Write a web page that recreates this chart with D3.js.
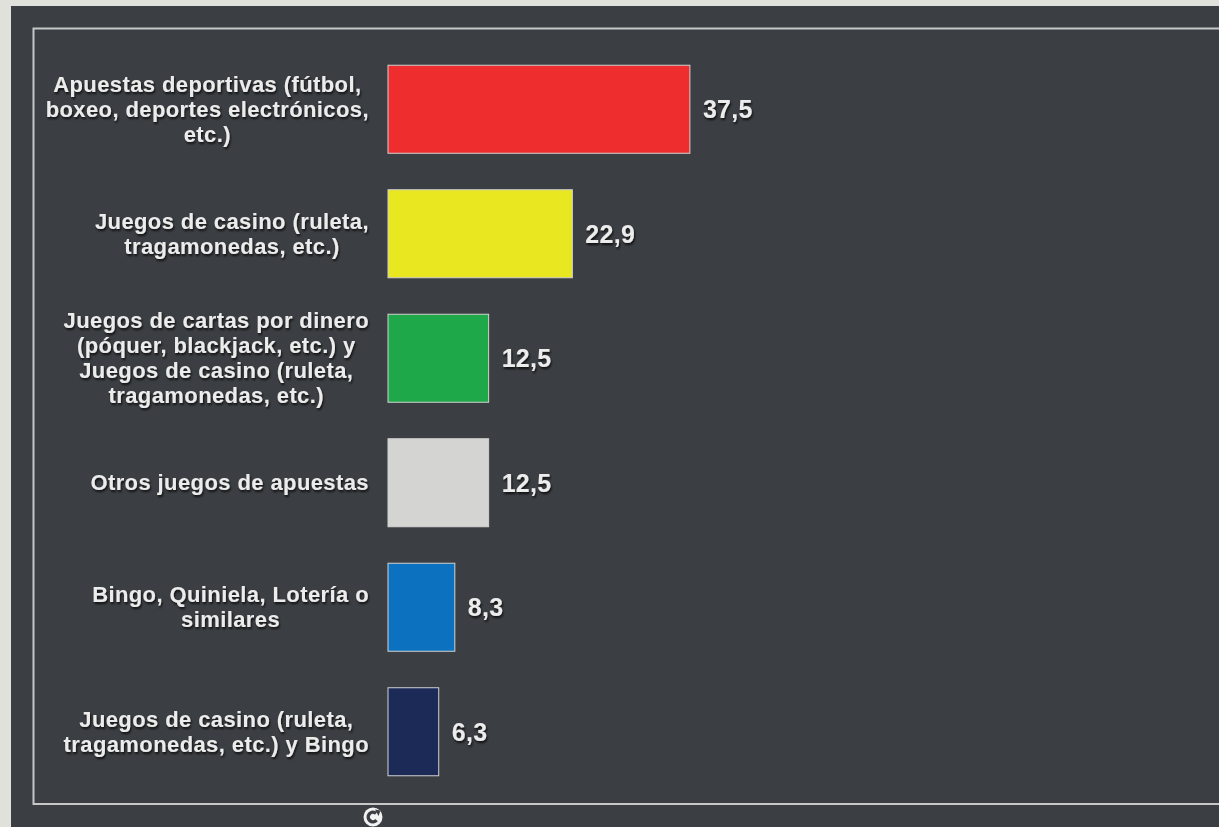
<!DOCTYPE html>
<html>
  <head>
    <meta charset="utf-8">
    <title>Tipos de juego de apuestas</title>
    <script src="https://d3js.org/d3.v7.min.js"></script>
    <style>
      body { margin: 0; background: #e1e1db; }
      svg { display: block; }
      text { font-family: "Liberation Sans", Arial, Helvetica, sans-serif; font-weight: bold; fill: #ececec; }
    </style>
  </head>
  <body>
    <svg id="chart" width="1219" height="827">
      <defs>
        <filter id="shadow" x="-10%" y="-30%" width="120%" height="160%">
          <feDropShadow dx="1" dy="2" stdDeviation="1" flood-color="#000" flood-opacity="0.75"></feDropShadow>
        </filter>
      </defs>
      <rect id="panel"></rect>
      <rect id="frame"></rect>
      <g id="barGroup"></g>
      <g id="labelGroup"></g>
      <g id="valueGroup"></g>
      <g id="icon"></g>
    </svg>
    <script>
      // data
      categories = [
        ["Apuestas deportivas (fútbol,", "boxeo, deportes electrónicos,", "etc.)"],
        ["Juegos de casino (ruleta,", "tragamonedas, etc.)"],
        ["Juegos de cartas por dinero", "(póquer, blackjack, etc.) y", "Juegos de casino (ruleta,", "tragamonedas, etc.)"],
        ["Otros juegos de apuestas"],
        ["Bingo, Quiniela, Lotería o", "similares"],
        ["Juegos de casino (ruleta,", "tragamonedas, etc.) y Bingo"]
      ];
      values = [37.5, 22.9, 12.5, 12.5, 8.3, 6.3];
      valueLabels = ["37,5", "22,9", "12,5", "12,5", "8,3", "6,3"];
      colors = ["#ee2e2e", "#e9e720", "#1fa84a", "#d4d5d3", "#0c72bf", "#1c2a58"];

      chart = d3.select("#chart");
      ids = d3.range(values.length);

      d3.select("#panel")
        .attr("x", 11).attr("y", 6)
        .attr("width", 1230).attr("height", 830)
        .attr("fill", "#3b3e42");
      d3.select("#frame")
        .attr("x", 33.5).attr("y", 28.5)
        .attr("width", 1200).attr("height", 775.5)
        .attr("fill", "none")
        .attr("stroke", "#c6c7c7")
        .attr("stroke-width", 2);

      // scales
      x = d3.scaleLinear()
        .domain([0, 40])
        .range([388, 710]);
      y = d3.scaleBand()
        .domain(ids)
        .range([47, 794])
        .paddingInner(0.293)
        .paddingOuter(0.1465);

      // bars
      d3.select("#barGroup")
        .selectAll("rect")
          .data(ids)
        .enter().append("rect")
          .attr("x", x(0))
          .attr("y", function(i) { return y(i); })
          .attr("width", function(i) { return x(values[i]) - x(0); })
          .attr("height", y.bandwidth())
          .attr("fill", function(i) { return colors[i]; })
          .attr("stroke", "#d2d2d2")
          .attr("stroke-width", 1);

      // value labels
      d3.select("#valueGroup")
        .selectAll("text")
          .data(ids)
        .enter().append("text")
          .attr("x", function(i) { return x(values[i]) + 13; })
          .attr("y", function(i) { return y(i) + y.bandwidth() / 2; })
          .attr("dy", "0.35em")
          .attr("font-size", 25)
          .attr("letter-spacing", 0.3)
          .attr("filter", "url(#shadow)")
          .text(function(i) { return valueLabels[i]; });

      // category labels: block right aligned, lines centred inside the block
      lineHeight = 25;
      labelRight = 369;
      labels = d3.select("#labelGroup")
        .selectAll("g")
          .data(ids)
        .enter().append("g")
          .attr("filter", "url(#shadow)");
      labels.each(function(i) {
        let g = d3.select(this);
        let lines = categories[i];
        let cy = y(i) + y.bandwidth() / 2;
        let texts = g.selectAll("text")
            .data(lines)
          .enter().append("text")
            .attr("font-size", 22)
            .attr("letter-spacing", 0.4)
            .attr("text-anchor", "middle")
            .attr("y", function(d, k) { return cy + (k - (lines.length - 1) / 2) * lineHeight; })
            .attr("dy", "0.35em")
            .text(function(d) { return d; });
        let widest = d3.max(texts.nodes(), function(n) { return n.getComputedTextLength(); });
        texts.attr("x", labelRight - widest / 2);
      });

      // small reload icon under the frame
      icon = d3.select("#icon").attr("transform", "translate(373, 817)");
      icon.append("circle").attr("r", 9.5).attr("fill", "#f2f2f2");
      icon.append("path")
        .attr("d", d3.arc()({ innerRadius: 3, outerRadius: 6.5, startAngle: 2.3, endAngle: 2 * Math.PI + 0.7 }))
        .attr("fill", "#3b3e42");
      icon.append("path")
        .attr("d", "M2,-7.5 L7.5,-6.5 L5.5,-1 Z")
        .attr("fill", "#3b3e42");
    </script>
  </body>
</html>
